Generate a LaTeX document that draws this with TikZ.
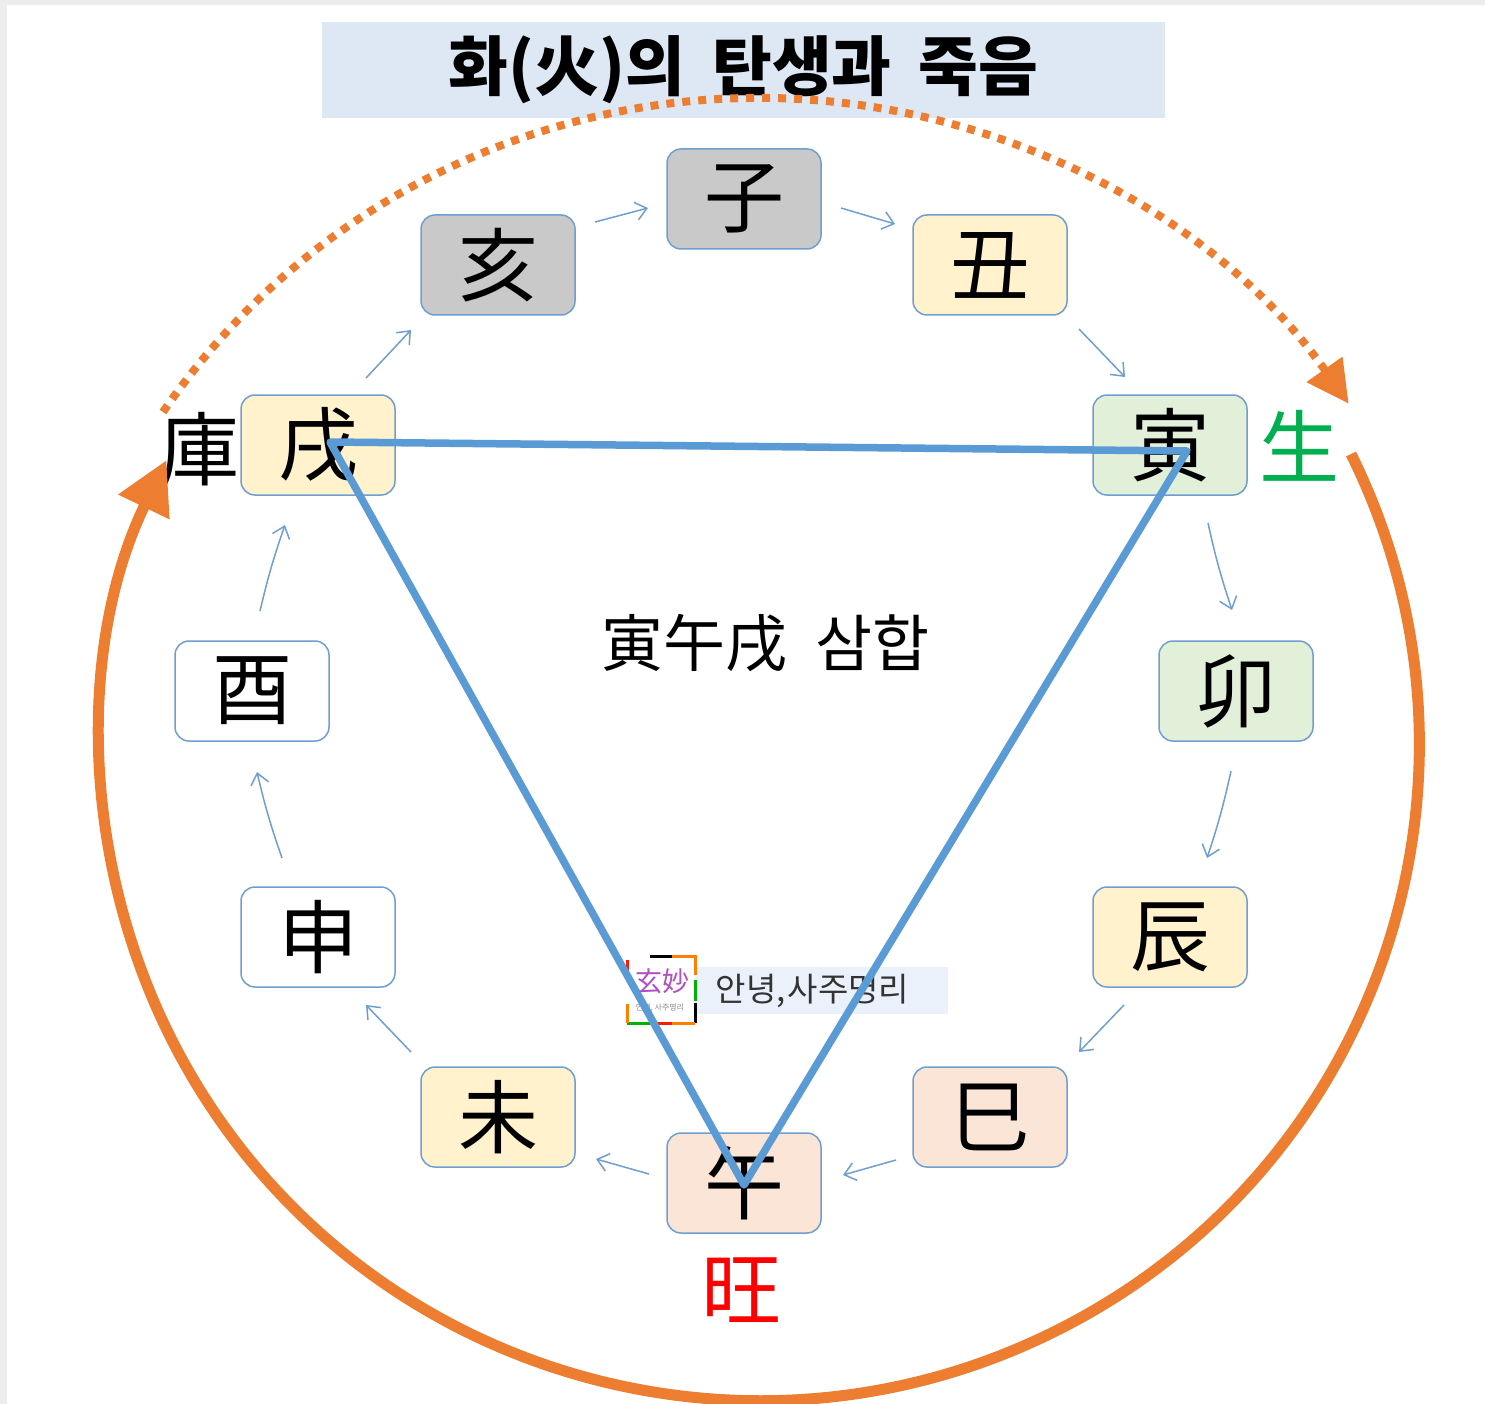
\documentclass[tikz,border=0pt]{standalone}
\usepackage{fontspec}
\setmainfont{Noto Sans CJK KR}
\usetikzlibrary{arrows.meta}
\definecolor{boxline}{HTML}{6F9FD0}
\definecolor{triblue}{HTML}{5B9BD5}
\definecolor{arcorange}{HTML}{ED7D31}
\definecolor{grayfill}{HTML}{CAC9C9}
\definecolor{yellowfill}{HTML}{FFF2CC}
\definecolor{greenfill}{HTML}{E2EFD9}
\definecolor{peachfill}{HTML}{FBE5D6}
\definecolor{titlefill}{HTML}{DEE8F5}
\definecolor{bannerfill}{HTML}{EAF1FA}
\definecolor{saenggreen}{HTML}{00B050}
\definecolor{logopurple}{HTML}{B04FC0}
\newcommand{\fs}[1]{\fontsize{#1pt}{#1pt}\selectfont}
\begin{document}
\begin{tikzpicture}[x=1pt, y=-1pt]
  \tikzstyle{branch} = [rectangle, draw=boxline, line width=1.5pt, rounded corners=14pt, minimum width=154pt, minimum height=100pt, inner sep=0pt, font=\fs{80}]
  \tikzstyle{flow} = [draw=boxline, line width=1.5pt, -{Straight Barb[length=11pt,width=18pt]}]
  \tikzstyle{bigarc} = [draw=arcorange, line width=11pt]
  \tikzstyle{word} = [inner sep=0pt, font=\fs{80}]

  \useasboundingbox (0,0) rectangle (1485,1404);
  \fill[black!7] (0,0) rectangle (1485,1404);
  \fill[white] (7,5) rectangle (1485,1404);

  \node [fill=titlefill, minimum width=843pt, minimum height=96pt, inner sep=0pt, font=\fs{65}\bfseries] (title) at (743.5,70) {\raisebox{-3pt}{화(火)의\hspace{27pt}탄생과\hspace{27pt}죽음}};

  % twelve branches
  \node [branch, fill=grayfill] (ja) at (744,199) {子};
  \node [branch, fill=yellowfill] (chuk) at (990,265) {丑};
  \node [branch, fill=greenfill] (in) at (1170,445) {寅};
  \node [branch, fill=greenfill] (myo) at (1236,691) {卯};
  \node [branch, fill=yellowfill] (jin) at (1170,937) {辰};
  \node [branch, fill=peachfill] (sa) at (990,1117) {巳};
  \node [branch, fill=peachfill] (o) at (744,1183) {午};
  \node [branch, fill=yellowfill] (mi) at (498,1117) {未};
  \node [branch, fill=white] (sin) at (318,937) {申};
  \node [branch, fill=white] (yu) at (252,691) {酉};
  \node [branch, fill=yellowfill] (sul) at (318,445) {戌};
  \node [branch, fill=grayfill] (hae) at (498,265) {亥};

  \draw[flow] ([shift={(97,-43)}]hae.center) -- ([shift={(-96,9)}]ja.center);
  \draw[flow] ([shift={(97,9)}]ja.center) -- ([shift={(-95,-41)}]chuk.center);
  \draw[flow] ([shift={(89,64)}]chuk.center) -- ([shift={(-45,-68)}]in.center);
  \draw[flow] ([shift={(38,78)}]in.center) to[bend right=3] ([shift={(-4,-81)}]myo.center);
  \draw[flow] ([shift={(-5,80)}]myo.center) to[bend left=3] ([shift={(37,-79)}]jin.center);
  \draw[flow] ([shift={(-46,68)}]jin.center) -- ([shift={(89,-65)}]sa.center);
  \draw[flow] ([shift={(-94,43)}]sa.center) -- ([shift={(99,-8)}]o.center);
  \draw[flow] ([shift={(-95,-9)}]o.center) -- ([shift={(98,42)}]mi.center);
  \draw[flow] ([shift={(-87,-65)}]mi.center) -- ([shift={(48,68)}]sin.center);
  \draw[flow] ([shift={(-36,-79)}]sin.center) to[bend left=3] ([shift={(5,81)}]yu.center);
  \draw[flow] ([shift={(8,-80)}]yu.center) to[bend left=3] ([shift={(-33,80)}]sul.center);
  \draw[flow] ([shift={(48,-67)}]sul.center) -- ([shift={(-87,65)}]hae.center);

  % labels round the circle
  \node [word] (go) at (199,449) {庫};
  \node [word, text=saenggreen] (saeng) at (1299,446) {生};
  \node [word, text=red] (wang) at (741,1290) {旺};
  \node [inner sep=0pt, font=\fs{62}] (samhap) at (766,643) {寅午戌\hspace{28pt}삼합};

  % watermark
  \node [fill=bannerfill, minimum width=253pt, minimum height=47pt, inner sep=0pt, text=black!80, font=\fs{33}] (banner) at (821.5,990.5) {\hspace*{-18pt}안녕,\hspace{2pt}사주명리};
  \node [inner sep=0pt, text=logopurple, font=\fs{27}] (logo) at (662,981) {玄妙};
  \node [inner sep=0pt, text=black!45, font=\fs{8}] (logotext) at (660,1008) {안녕, 사주명리};
  \draw[line width=3pt, black] (650,956) -- (672,956);
  \draw[line width=3pt, orange] (672,956) -- (695,956) -- (695,975);
  \draw[line width=3pt, green!70!black] (695,980) -- (695,1001);
  \draw[line width=3pt, black] (695,1003) -- (695,1023);
  \draw[line width=3pt, orange] (695,1023) -- (672,1023);
  \draw[line width=3pt, red!80!orange] (672,1023) -- (650,1023);
  \draw[line width=3pt, green!70!black] (650,1023) -- (627,1023);
  \draw[line width=3pt, orange] (627,1023) -- (627,1004);
  \draw[line width=3pt, red!80!orange] (627,975) -- (627,960);

  % triangle
  \coordinate (tria) at ([shift={(12,-3)}]sul.center);
  \coordinate (trib) at ([shift={(17,6)}]in.center);
  \coordinate (tric) at ([shift={(0,2)}]o.center);
  \draw[triblue, line width=7.5pt, line join=round] (tria) -- (trib) -- (tric) -- cycle;

  % fire circle
  \coordinate (arcs) at (1351,454);
  \coordinate (arct) at (163,412);
  \draw[bigarc, -{Triangle[length=52pt,width=54pt]}] (arcs) arc[start angle=-26.3, end angle=205.7, x radius=659, y radius=656];
  \draw[bigarc, line width=8pt, dash pattern=on 8pt off 8pt, -{Triangle[length=42pt,width=42pt]}] (arct) arc[start angle=-145.6, end angle=-35.2, radius=722];
\end{tikzpicture}
\end{document}
